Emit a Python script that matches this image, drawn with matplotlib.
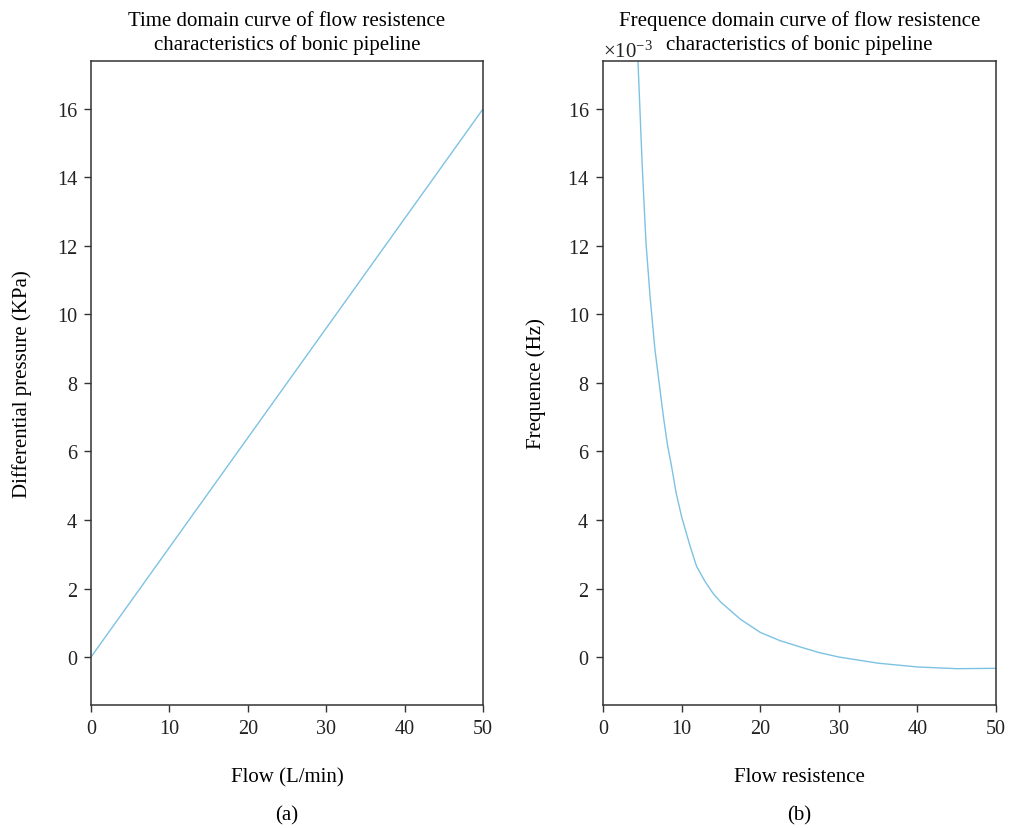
import numpy as np
import matplotlib.pyplot as plt
from matplotlib.ticker import ScalarFormatter

plt.rcParams['font.family'] = ['Liberation Serif', 'DejaVu Serif']
plt.rcParams['mathtext.fontset'] = 'custom'
plt.rcParams['mathtext.rm'] = 'Liberation Serif'

# (a) flow vs differential pressure
flow = [0, 10, 20, 30, 40, 50]
dp_kpa = [0.0, 3.2, 6.4, 9.6, 12.8, 16.0]

# (b) flow resistence vs frequence (Hz)
resist = [4.3, 4.45, 5.0, 5.47, 6.0, 6.6, 7.2, 7.7, 8.2, 8.7, 9.3, 10.0, 11.0,
          11.9, 13.0, 14.0, 15.0, 17.5, 20.0, 22.5, 25.0, 27.5, 30.0, 35.0,
          40.0, 45.0, 50.0]
freq_hz = [0.0180, 0.0174, 0.0143, 0.0121, 0.0105, 0.0090, 0.0079, 0.0070,
           0.0062, 0.0056, 0.0048, 0.0041, 0.0033, 0.00265, 0.0022, 0.00186,
           0.0016, 0.00110, 0.00072, 0.00048, 0.00030, 0.00013, 0.0000,
           -0.00018, -0.00029, -0.00034, -0.00033]

line_color = '#7dc2e3'
spine_color = '#333333'
fs = 15

fig = plt.figure(figsize=(10.09, 8.29), dpi=100)
ax1 = fig.add_axes([0.0902, 0.1484, 0.3885, 0.7768])
ax2 = fig.add_axes([0.5976, 0.1484, 0.3895, 0.7768])

ax1.plot(flow, dp_kpa, color=line_color, lw=1.0)
ax1.set_xlim(0, 50)
ax1.set_ylim(-1.4, 17.4)
ax1.set_yticks([0, 2, 4, 6, 8, 10, 12, 14, 16])
ax1.set_title('Time domain curve of flow resistence\ncharacteristics of bonic pipeline',
              fontsize=fs, pad=9, y=1.0, linespacing=1.25)
ax1.set_xlabel('Flow (L/min)', fontsize=fs, labelpad=21)
ax1.set_ylabel('Differential pressure (KPa)', fontsize=fs, labelpad=18)
fig.text(0.2845, 0.010, '(a)', ha='center', fontsize=fs)

ax2.plot(resist, freq_hz, color=line_color, lw=1.0)
ax2.set_xlim(0, 50)
ax2.set_ylim(-0.0014, 0.0174)
ax2.set_yticks(np.arange(0, 0.0161, 0.002))
fmt = ScalarFormatter(useMathText=True)
fmt.set_powerlimits((-3, -3))
ax2.yaxis.set_major_formatter(fmt)
ax2.yaxis.get_offset_text().set_fontsize(fs)
ax2.set_title('Frequence domain curve of flow resistence\ncharacteristics of bonic pipeline',
              fontsize=fs, pad=9, y=1.0, linespacing=1.25)
ax2.set_xlabel('Flow resistence', fontsize=fs, labelpad=21)
ax2.set_ylabel('Frequence (Hz)', fontsize=fs, labelpad=15)
fig.text(0.7924, 0.010, '(b)', ha='center', fontsize=fs)

for ax in (ax1, ax2):
    for s in ax.spines.values():
        s.set_color(spine_color)
        s.set_linewidth(1.1)
    ax.tick_params(direction='out', length=5, width=1.0, color=spine_color,
                   labelsize=14.5, labelcolor='#222222', pad=5)
    ax.set_xticks([0, 10, 20, 30, 40, 50])

fig.savefig('out.png', dpi=100)
